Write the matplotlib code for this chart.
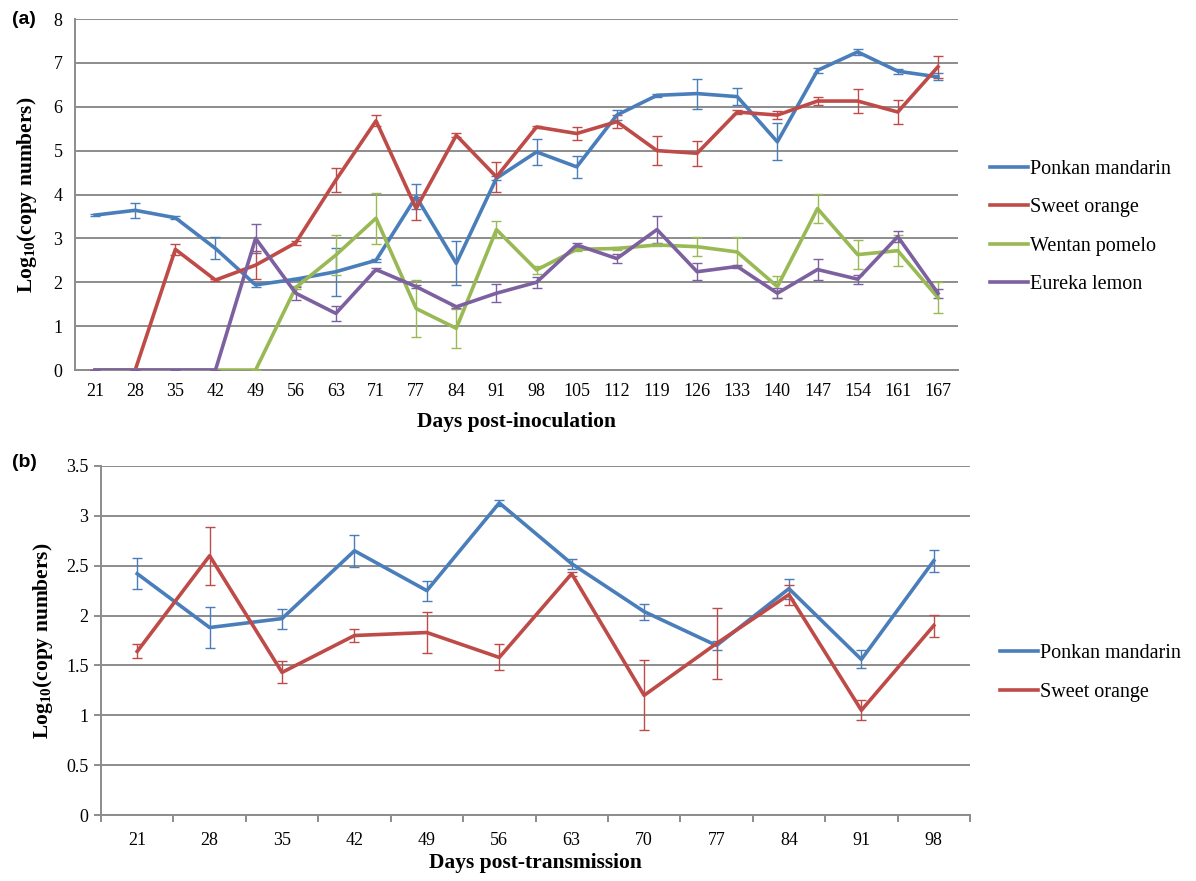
import matplotlib
matplotlib.use("Agg")
import matplotlib.pyplot as plt
from matplotlib.lines import Line2D

plt.rcParams['font.family'] = ['Liberation Serif', 'DejaVu Serif']
plt.rcParams['mathtext.default'] = 'regular'

# panel (a) data
days_a = ["21", "28", "35", "42", "49", "56", "63", "71", "77", "84", "91", "98",
          "105", "112", "119", "126", "133", "140", "147", "154", "161", "167"]
ponkan_a = [3.53, 3.64, 3.47, 2.77, 1.94, 2.07, 2.24, 2.50, 3.95, 2.43, 4.37, 4.97,
            4.63, 5.81, 6.26, 6.30, 6.23, 5.20, 6.83, 7.25, 6.81, 6.68]
ponkan_a_err = [0.03, 0.17, 0.03, 0.25, 0.04, 0.03, 0.55, 0.04, 0.28, 0.50, 0.05, 0.29,
                0.25, 0.12, 0.03, 0.34, 0.19, 0.42, 0.05, 0.07, 0.06, 0.08]
orange_a = [0, 0, 2.75, 2.05, 2.39, 2.90, 4.33, 5.68, 3.68, 5.35, 4.40, 5.54,
            5.39, 5.66, 5.00, 4.94, 5.88, 5.81, 6.13, 6.13, 5.88, 6.91]
orange_a_err = [0, 0, 0.12, 0.03, 0.32, 0.04, 0.27, 0.13, 0.27, 0.05, 0.35, 0.03,
                0.15, 0.15, 0.33, 0.29, 0.04, 0.10, 0.10, 0.27, 0.28, 0.25]
pomelo_a = [0, 0, 0, 0, 0, 1.88, 2.62, 3.46, 1.40, 0.95, 3.20, 2.28,
            2.75, 2.77, 2.85, 2.81, 2.69, 1.90, 3.68, 2.63, 2.72, 1.65]
pomelo_a_err = [0, 0, 0, 0, 0, 0.04, 0.45, 0.58, 0.65, 0.45, 0.20, 0.10,
                0.03, 0.03, 0.03, 0.22, 0.33, 0.25, 0.34, 0.33, 0.35, 0.35]
lemon_a = [0, 0, 0, 0, 3.00, 1.75, 1.29, 2.29, 1.90, 1.44, 1.75, 2.00,
           2.85, 2.54, 3.20, 2.24, 2.36, 1.75, 2.29, 2.07, 3.04, 1.75]
lemon_a_err = [0, 0, 0, 0, 0.33, 0.15, 0.18, 0.03, 0.03, 0.03, 0.20, 0.12,
               0.05, 0.10, 0.30, 0.20, 0.03, 0.12, 0.25, 0.10, 0.13, 0.10]

# panel (b) data
days_b = ["21", "28", "35", "42", "49", "56", "63", "70", "77", "84", "91", "98"]
ponkan_b = [2.42, 1.88, 1.97, 2.65, 2.25, 3.13, 2.52, 2.04, 1.70, 2.27, 1.56, 2.55]
ponkan_b_err = [0.155, 0.21, 0.10, 0.16, 0.10, 0.03, 0.05, 0.08, 0.05, 0.10, 0.09, 0.11]
orange_b = [1.64, 2.60, 1.43, 1.80, 1.83, 1.58, 2.42, 1.20, 1.72, 2.21, 1.05, 1.90]
orange_b_err = [0.07, 0.29, 0.11, 0.07, 0.21, 0.13, 0.02, 0.35, 0.36, 0.10, 0.10, 0.11]

names = ["Ponkan mandarin", "Sweet orange", "Wentan pomelo", "Eureka lemon"]
colors = ["#4a7ebb", "#be4b48", "#98b954", "#7d60a0"]
grid_c = "#8c8c8c"

fig = plt.figure(figsize=(11.96, 8.81), dpi=100)
ax1 = fig.add_axes([75/1196, 1-370/881, 883/1196, 351/881])
ax2 = fig.add_axes([101/1196, 1-815/881, 869/1196, 349/881])


def draw(ax, labels, series, errs):
    x = list(range(len(labels)))
    for vals, err, c in zip(series, errs, colors):
        ax.errorbar(x, vals, yerr=err, color=c, ecolor=c, elinewidth=1.0,
                    capsize=3.5, capthick=1.0, lw=2.6, zorder=3)
    ax.set_xlim(-0.5, len(labels) - 0.5)
    ax.set_xticks(x)
    ax.set_xticklabels(labels, fontsize=13)
    ax.yaxis.grid(True, color=grid_c, lw=1.4)
    ax.set_axisbelow(True)
    for s in ["top", "right"]:
        ax.spines[s].set_visible(False)
    for s in ["left", "bottom"]:
        ax.spines[s].set_color(grid_c)
        ax.spines[s].set_linewidth(1.4)
    ax.tick_params(axis="y", labelsize=13, colors="black")


def legend(ax, n, x, y):
    handles = [Line2D([], [], color=c, lw=2.6) for c in colors[:n]]
    ax.legend(handles, names[:n], loc="center left", bbox_to_anchor=(x/1196, 1-y/881),
              bbox_transform=fig.transFigure, frameon=False, fontsize=14.5,
              handlelength=1.9, handletextpad=0.1, labelspacing=0.95)


draw(ax1, days_a, [ponkan_a, orange_a, pomelo_a, lemon_a],
     [ponkan_a_err, orange_a_err, pomelo_a_err, lemon_a_err])
ax1.set_ylim(0, 8)
ax1.set_yticks(range(0, 9))
ax1.tick_params(axis="both", length=0, pad=9)
ax1.set_xlabel("Days post-inoculation", fontsize=15.5, fontweight="bold", labelpad=9)
ax1.set_ylabel("Log$_{10}$(copy numbers)", fontsize=15.5, fontweight="bold", labelpad=10)
legend(ax1, 4, 972, 227)

draw(ax2, days_b, [ponkan_b, orange_b], [ponkan_b_err, orange_b_err])
ax2.set_ylim(0, 3.5)
ax2.set_yticks([0, 0.5, 1, 1.5, 2, 2.5, 3, 3.5])
ax2.set_yticklabels(["0", "0.5", "1", "1.5", "2", "2.5", "3", "3.5"])
ax2.set_xticks([i - 0.5 for i in range(len(days_b) + 1)], minor=True)
ax2.tick_params(axis="x", which="major", length=0, pad=12)
ax2.tick_params(axis="x", which="minor", length=5, color=grid_c, width=1.4)
ax2.tick_params(axis="y", length=5, color=grid_c, width=1.4, pad=4)
ax2.set_xlabel("Days post-transmission", fontsize=15.5, fontweight="bold", labelpad=3)
ax2.set_ylabel("Log$_{10}$(copy numbers)", fontsize=15.5, fontweight="bold", labelpad=8)
legend(ax2, 2, 982, 673)

fig.text(12/1196, 1-20/881, "(a)", fontsize=14, fontweight="bold",
         family="Liberation Sans", va="center")
fig.text(12/1196, 1-462/881, "(b)", fontsize=14, fontweight="bold",
         family="Liberation Sans", va="center")

fig.savefig("out.png", dpi=100)
